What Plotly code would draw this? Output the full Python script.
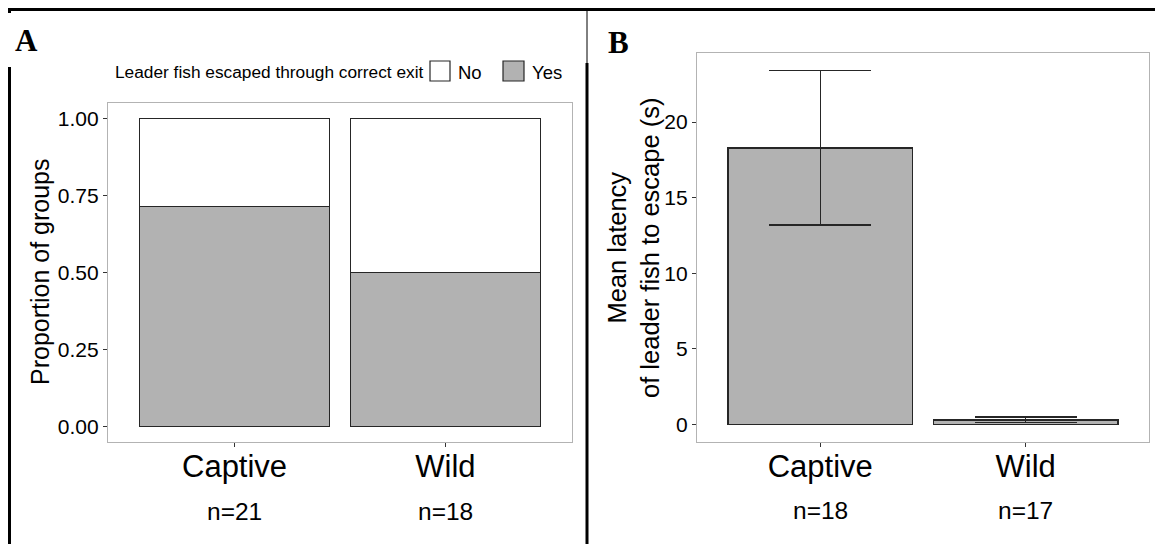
import plotly.graph_objects as go

# ---------------- data ----------------
categories = ["Captive", "Wild"]
n_panel_a = ["n=21", "n=18"]
n_panel_b = ["n=18", "n=17"]

prop_yes = [0.714, 0.5]          # proportion of groups: leader escaped through correct exit
prop_no = [0.286, 0.5]

latency_mean = [18.3, 0.3]       # mean latency (s)
latency_se = [5.1, 0.17]

ticks_a = [0, 0.25, 0.5, 0.75, 1.0]
ticks_b = [0, 5, 10, 15, 20]

# ---------------- layout helpers ----------------
W, H = 1163, 544
OFF = 8  # page body margin offset
def fx(px):
    return (px - OFF) / W
def fy(py):
    return 1 - (py - OFF) / H

FONT = "Liberation Sans, Arial, sans-serif"
GRAY = "#b2b2b2"
EDGE = "#262626"

fig = go.Figure()

# Panel A stacked bars
fig.add_trace(go.Bar(x=categories, y=prop_yes, name="Yes", marker=dict(color=GRAY, line=dict(color=EDGE, width=1.5)),
                     xaxis="x", yaxis="y", showlegend=False))
fig.add_trace(go.Bar(x=categories, y=prop_no, name="No", marker=dict(color="white", line=dict(color=EDGE, width=1.5)),
                     xaxis="x", yaxis="y", showlegend=False))

# Panel B bars with error bars
fig.add_trace(go.Bar(x=categories, y=latency_mean, marker=dict(color=GRAY, line=dict(color=EDGE, width=1.5)),
                     error_y=dict(type="data", array=latency_se, visible=True, color=EDGE, thickness=1.5, width=51),
                     xaxis="x2", yaxis="y2", showlegend=False))

axis_common = dict(showline=True, mirror=True, linecolor="#b3b3b3", linewidth=1.3,
                   showgrid=False, zeroline=False, ticks="outside", ticklen=4,
                   tickcolor="#333333", tickwidth=1)

fig.update_layout(
    width=W, height=H, autosize=False,
    margin=dict(l=0, r=0, t=0, b=0),
    paper_bgcolor="white", plot_bgcolor="white",
    barmode="stack", bargap=0.1,
    font=dict(family=FONT, color="black"),
    xaxis=dict(domain=[fx(108), fx(572)], type="category", range=[-0.6, 1.6],
               tickfont=dict(size=31, color="black"), ticklabelstandoff=-7, anchor="y", **axis_common),
    yaxis=dict(domain=[fy(442), fy(103)], range=[-0.05, 1.05], tickvals=ticks_a, tickformat=".2f",
               tickfont=dict(size=21, color="black"), anchor="x", **axis_common),
    xaxis2=dict(domain=[fx(697), fx(1149)], type="category", range=[-0.6, 1.6],
                tickfont=dict(size=31, color="black"), ticklabelstandoff=-7, anchor="y2", **axis_common),
    yaxis2=dict(domain=[fy(442), fy(53)], range=[-1.17, 24.57], tickvals=ticks_b,
                tickfont=dict(size=21, color="black"), anchor="x2", **axis_common),
)

annotations = []
# n labels
for c, t in zip(categories, n_panel_a):
    annotations.append(dict(x=c, xref="x", y=fy(511), yref="paper", text=t, showarrow=False,
                            font=dict(size=24.5, color="black"), xanchor="center", yanchor="middle"))
for c, t in zip(categories, n_panel_b):
    annotations.append(dict(x=c, xref="x2", y=fy(510), yref="paper", text=t, showarrow=False,
                            font=dict(size=24.5, color="black"), xanchor="center", yanchor="middle"))
# y-axis titles
annotations.append(dict(x=fx(40), y=fy(272), xref="paper", yref="paper", text="Proportion of groups",
                        textangle=-90, showarrow=False, font=dict(size=25, color="black"),
                        xanchor="center", yanchor="middle"))
annotations.append(dict(x=fx(633), y=fy(248), xref="paper", yref="paper",
                        text="Mean latency<br>of leader fish to escape (s)",
                        textangle=-90, showarrow=False, font=dict(size=25.5, color="black"),
                        xanchor="center", yanchor="middle"))
# panel letters
annotations.append(dict(x=fx(13), y=fy(40), xref="paper", yref="paper", text="<b>A</b>", showarrow=False,
                        font=dict(family="Liberation Serif, Times New Roman, serif", size=31, color="black"),
                        xanchor="left", yanchor="middle"))
annotations.append(dict(x=fx(606), y=fy(42), xref="paper", yref="paper", text="<b>B</b>", showarrow=False,
                        font=dict(family="Liberation Serif, Times New Roman, serif", size=31, color="black"),
                        xanchor="left", yanchor="middle"))
# legend (manual)
annotations.append(dict(x=fx(426), y=fy(72), xref="paper", yref="paper",
                        text="Leader fish escaped through correct exit", showarrow=False,
                        font=dict(size=17.3, color="black"), xanchor="right", yanchor="middle"))
annotations.append(dict(x=fx(456), y=fy(72), xref="paper", yref="paper", text="No", showarrow=False,
                        font=dict(size=18.5, color="black"), xanchor="left", yanchor="middle"))
annotations.append(dict(x=fx(530), y=fy(72), xref="paper", yref="paper", text="Yes", showarrow=False,
                        font=dict(size=18.5, color="black"), xanchor="left", yanchor="middle"))

shapes = [
    # legend keys
    dict(type="rect", xref="paper", yref="paper", x0=fx(430), x1=fx(450), y0=fy(81), y1=fy(61),
         fillcolor="white", line=dict(color=EDGE, width=1.2)),
    dict(type="rect", xref="paper", yref="paper", x0=fx(503), x1=fx(524), y0=fy(81), y1=fy(61),
         fillcolor=GRAY, line=dict(color=EDGE, width=1.2)),
    # outer frame lines
    dict(type="line", xref="paper", yref="paper", x0=fx(8), x1=fx(1175), y0=fy(9.5), y1=fy(9.5),
         line=dict(color="black", width=3)),
    dict(type="line", xref="paper", yref="paper", x0=fx(9.5), x1=fx(9.5), y0=fy(8), y1=fy(13),
         line=dict(color="black", width=3)),
    dict(type="line", xref="paper", yref="paper", x0=fx(9.5), x1=fx(9.5), y0=fy(67), y1=fy(560),
         line=dict(color="black", width=3)),
    dict(type="line", xref="paper", yref="paper", x0=fx(587), x1=fx(587), y0=fy(9), y1=fy(64),
         line=dict(color="black", width=1)),
    dict(type="line", xref="paper", yref="paper", x0=fx(587), x1=fx(587), y0=fy(63), y1=fy(560),
         line=dict(color="black", width=3)),
]

fig.update_layout(annotations=annotations, shapes=shapes)

fig.write_html("out.html")
